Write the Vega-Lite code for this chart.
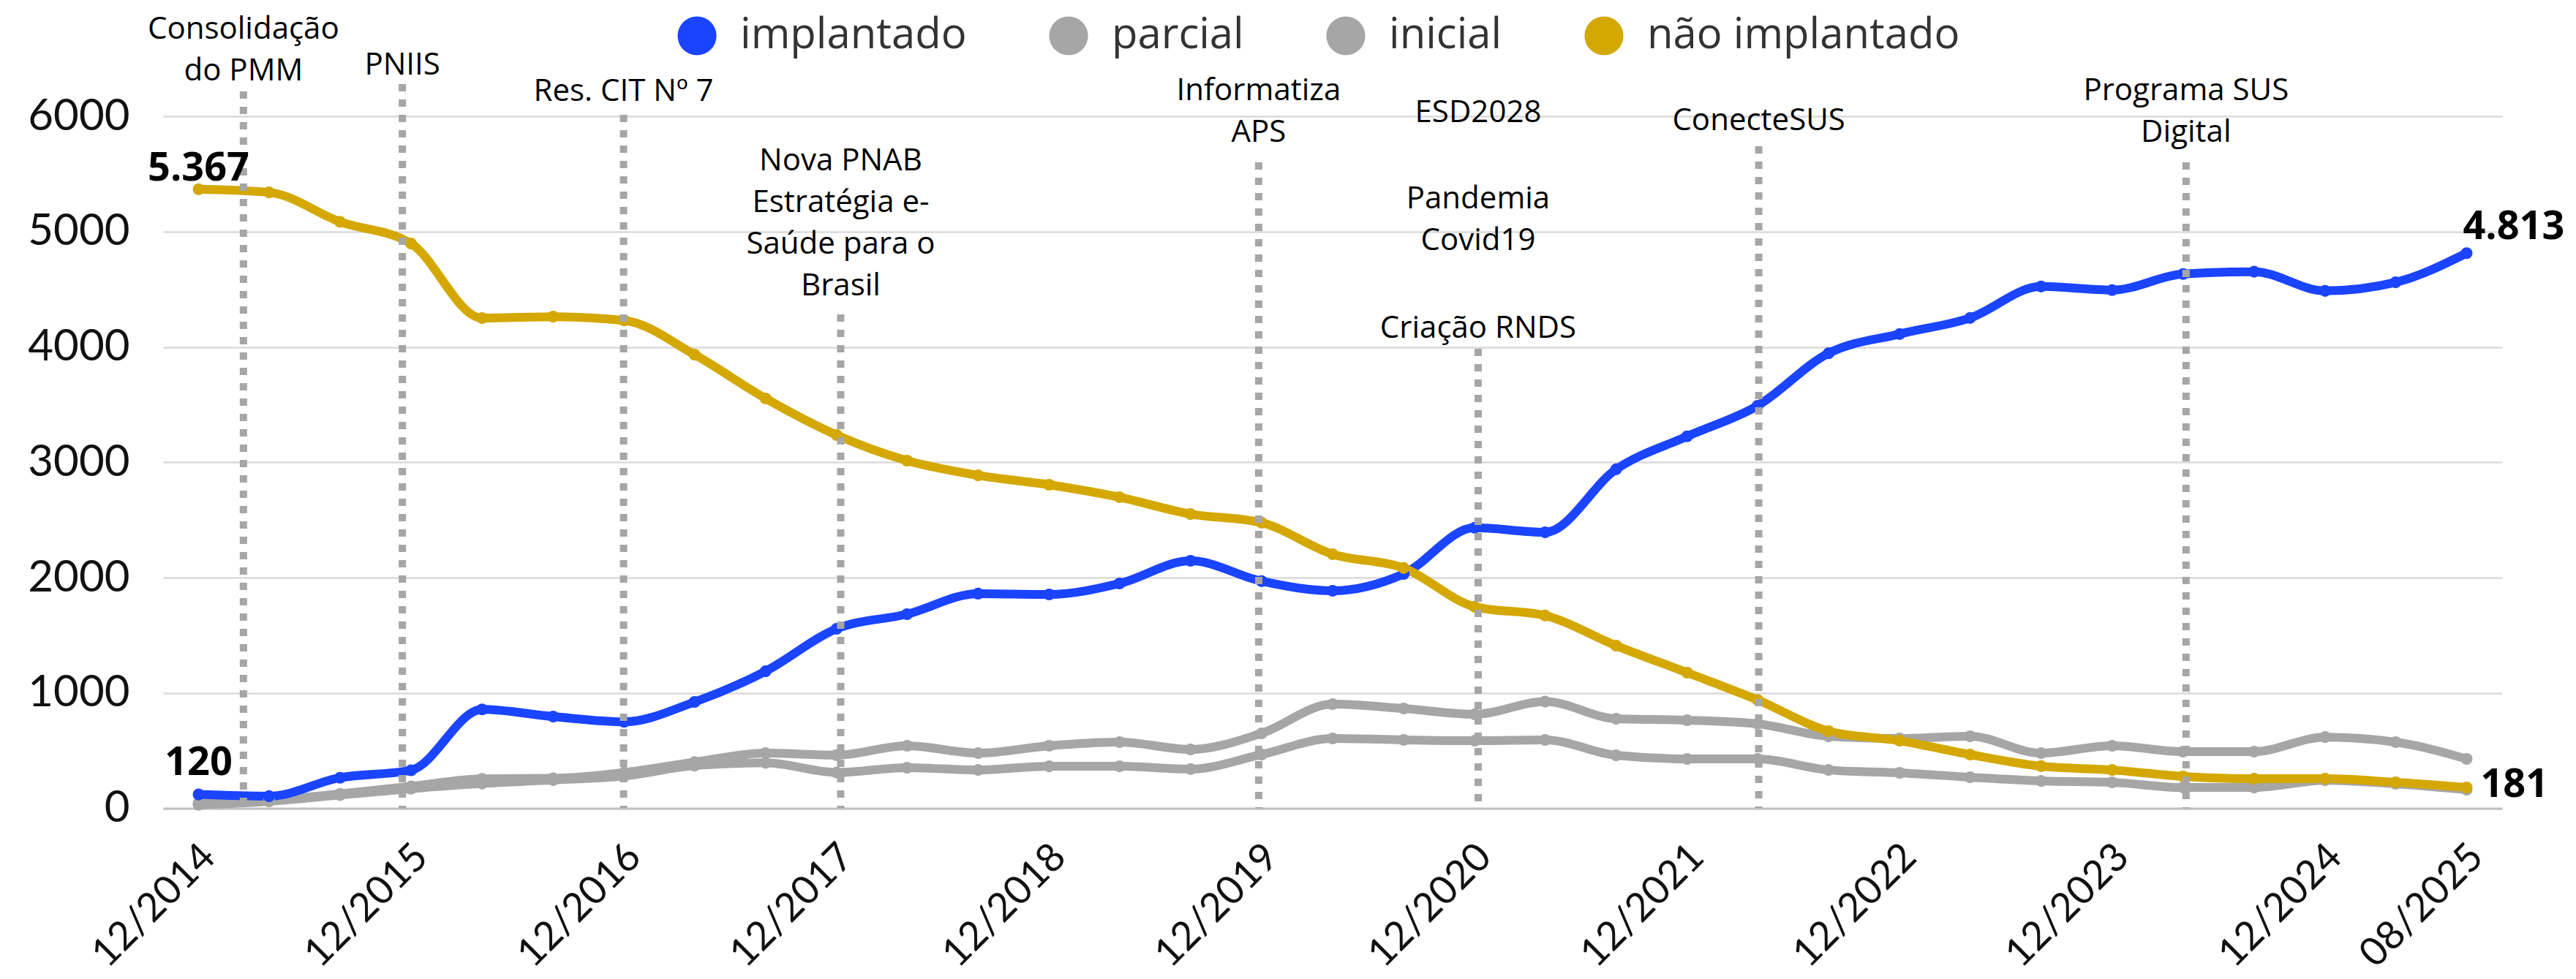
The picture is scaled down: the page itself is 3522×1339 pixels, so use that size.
{
  "$schema": "https://vega.github.io/schema/vega-lite/v6.json",
  "width": 3198,
  "height": 946.5,
  "autosize": {"type": "none"},
  "padding": {"left": 223, "top": 159, "right": 101, "bottom": 233.5},
  "background": "white",
  "config": {"view": {"stroke": null}},
  "datasets": {
    "series": [
      {"data": "2014-12-01", "implantado": 120, "parcial": 45, "inicial": 30, "não implantado": 5367},
      {"data": "2015-04-01", "implantado": 105, "parcial": 70, "inicial": 60, "não implantado": 5340},
      {"data": "2015-08-01", "implantado": 265, "parcial": 125, "inicial": 115, "não implantado": 5085},
      {"data": "2015-12-01", "implantado": 330, "parcial": 190, "inicial": 170, "não implantado": 4896},
      {"data": "2016-04-01", "implantado": 857, "parcial": 255, "inicial": 215, "não implantado": 4250},
      {"data": "2016-08-01", "implantado": 795, "parcial": 260, "inicial": 245, "não implantado": 4262},
      {"data": "2016-12-01", "implantado": 750, "parcial": 310, "inicial": 280, "não implantado": 4230},
      {"data": "2017-04-01", "implantado": 922, "parcial": 400, "inicial": 370, "não implantado": 3933},
      {"data": "2017-08-01", "implantado": 1188, "parcial": 478, "inicial": 394, "não implantado": 3553},
      {"data": "2017-12-01", "implantado": 1556, "parcial": 461, "inicial": 310, "não implantado": 3236},
      {"data": "2018-04-01", "implantado": 1683, "parcial": 542, "inicial": 352, "não implantado": 3014},
      {"data": "2018-08-01", "implantado": 1861, "parcial": 478, "inicial": 332, "não implantado": 2887},
      {"data": "2018-12-01", "implantado": 1854, "parcial": 542, "inicial": 364, "não implantado": 2805},
      {"data": "2019-04-01", "implantado": 1949, "parcial": 574, "inicial": 364, "não implantado": 2697},
      {"data": "2019-08-01", "implantado": 2146, "parcial": 510, "inicial": 340, "não implantado": 2551},
      {"data": "2019-12-01", "implantado": 1969, "parcial": 650, "inicial": 466, "não implantado": 2476},
      {"data": "2020-04-01", "implantado": 1886, "parcial": 903, "inicial": 605, "não implantado": 2203},
      {"data": "2020-08-01", "implantado": 2032, "parcial": 865, "inicial": 593, "não implantado": 2083},
      {"data": "2020-12-01", "implantado": 2432, "parcial": 815, "inicial": 586, "não implantado": 1747},
      {"data": "2021-04-01", "implantado": 2393, "parcial": 925, "inicial": 593, "não implantado": 1671},
      {"data": "2021-08-01", "implantado": 2939, "parcial": 776, "inicial": 459, "não implantado": 1410},
      {"data": "2021-12-01", "implantado": 3225, "parcial": 764, "inicial": 428, "não implantado": 1176},
      {"data": "2022-04-01", "implantado": 3490, "parcial": 732, "inicial": 428, "não implantado": 940},
      {"data": "2022-08-01", "implantado": 3945, "parcial": 624, "inicial": 332, "não implantado": 669},
      {"data": "2022-12-01", "implantado": 4112, "parcial": 605, "inicial": 307, "não implantado": 586},
      {"data": "2023-04-01", "implantado": 4251, "parcial": 624, "inicial": 269, "não implantado": 466},
      {"data": "2023-08-01", "implantado": 4524, "parcial": 478, "inicial": 237, "não implantado": 365},
      {"data": "2023-12-01", "implantado": 4493, "parcial": 542, "inicial": 225, "não implantado": 332},
      {"data": "2024-04-01", "implantado": 4632, "parcial": 491, "inicial": 180, "não implantado": 276},
      {"data": "2024-08-01", "implantado": 4652, "parcial": 491, "inicial": 180, "não implantado": 256},
      {"data": "2024-12-01", "implantado": 4486, "parcial": 617, "inicial": 243, "não implantado": 256},
      {"data": "2025-04-01", "implantado": 4560, "parcial": 574, "inicial": 212, "não implantado": 225},
      {"data": "2025-08-01", "implantado": 4813, "parcial": 428, "inicial": 161, "não implantado": 181}
    ],
    "marcos": [
      {"data": "2015-02-16", "topo": 6216},
      {"data": "2015-11-16", "topo": 6279},
      {"data": "2016-11-30", "topo": 6013},
      {"data": "2017-12-08", "topo": 4282},
      {"data": "2019-11-26", "topo": 5601},
      {"data": "2020-12-07", "topo": 3984},
      {"data": "2022-04-03", "topo": 5740},
      {"data": "2024-04-06", "topo": 5601}
    ],
    "rotulos": [
      {"data": "2015-02-16", "y": 6672, "rotulo": "Consolidação\ndo PMM"},
      {"data": "2015-11-16", "y": 6361, "rotulo": "PNIIS"},
      {"data": "2016-11-30", "y": 6131, "rotulo": "Res. CIT Nº 7"},
      {"data": "2017-12-08", "y": 5531, "rotulo": "Nova PNAB\nEstratégia e-\nSaúde para o\nBrasil"},
      {"data": "2019-11-26", "y": 6140, "rotulo": "Informatiza\nAPS"},
      {"data": "2020-12-07", "y": 5949, "rotulo": "ESD2028"},
      {"data": "2020-12-07", "y": 5201, "rotulo": "Pandemia\nCovid19"},
      {"data": "2020-12-07", "y": 4079, "rotulo": "Criação RNDS"},
      {"data": "2022-04-03", "y": 5880, "rotulo": "ConecteSUS"},
      {"data": "2024-04-06", "y": 6140, "rotulo": "Programa SUS\nDigital"}
    ],
    "destaques": [
      {"data": "2014-12-01", "valor": 5367, "texto": "5.367"},
      {"data": "2014-12-01", "valor": 120, "texto": "120"},
      {"data": "2025-08-01", "valor": 4813, "texto": "4.813"},
      {"data": "2025-08-01", "valor": 181, "texto": "181"}
    ]
  },
  "layer": [
    {
      "data": {"name": "series"},
      "transform": [{"fold": ["parcial", "inicial", "implantado", "não implantado"], "as": ["serie", "valor"]}],
      "mark": {"type": "line", "interpolate": "monotone", "strokeWidth": 12, "point": {"filled": true, "size": 260, "strokeWidth": 0}},
      "encoding": {
        "x": {
          "field": "data", "type": "temporal",
          "scale": {"type": "utc", "domain": [{"year": 2014, "month": 10, "date": 1, "utc": true}, {"year": 2025, "month": 10, "date": 1, "utc": true}]},
          "axis": {
            "title": null,
            "values": [
              {"year": 2014, "month": 12, "date": 1, "utc": true},
              {"year": 2015, "month": 12, "date": 1, "utc": true},
              {"year": 2016, "month": 12, "date": 1, "utc": true},
              {"year": 2017, "month": 12, "date": 1, "utc": true},
              {"year": 2018, "month": 12, "date": 1, "utc": true},
              {"year": 2019, "month": 12, "date": 1, "utc": true},
              {"year": 2020, "month": 12, "date": 1, "utc": true},
              {"year": 2021, "month": 12, "date": 1, "utc": true},
              {"year": 2022, "month": 12, "date": 1, "utc": true},
              {"year": 2023, "month": 12, "date": 1, "utc": true},
              {"year": 2024, "month": 12, "date": 1, "utc": true},
              {"year": 2025, "month": 8, "date": 1, "utc": true}
            ],
            "format": "%m/%Y",
            "labelAngle": -45,
            "labelAlign": "right",
            "labelBaseline": "middle",
            "labelFont": "Lato",
            "labelFontSize": 54,
            "labelColor": "#111111",
            "labelLimit": 1000,
            "labelPadding": 58,
            "labelOffset": 14,
            "labelOverlap": false,
            "labelBound": false,
            "labelFlush": false,
            "ticks": false,
            "tickSize": 0,
            "grid": false,
            "domain": true,
            "domainColor": "#c2c2c2",
            "domainWidth": 3
          }
        },
        "y": {
          "field": "valor", "type": "quantitative",
          "scale": {"domain": [0, 6000], "nice": false, "zero": true},
          "axis": {
            "title": null,
            "values": [0, 1000, 2000, 3000, 4000, 5000, 6000],
            "format": "d",
            "grid": true,
            "gridColor": "#dadada",
            "gridWidth": 2.5,
            "domain": false,
            "ticks": false,
            "labelFont": "Lato",
            "labelFontSize": 60,
            "labelColor": "#111111",
            "labelPadding": 46
          }
        },
        "color": {
          "field": "serie", "type": "nominal",
          "scale": {"domain": ["implantado", "parcial", "inicial", "não implantado"], "range": ["#1a44ff", "#a6a6a6", "#a6a6a6", "#d4a800"]},
          "legend": {
            "orient": "none",
            "legendX": 701,
            "legendY": -139,
            "direction": "horizontal",
            "title": null,
            "symbolType": "circle",
            "symbolSize": 2827,
            "symbolStrokeWidth": 0,
            "labelFont": "Open Sans",
            "labelFontSize": 58,
            "labelColor": "#333333",
            "labelLimit": 1000,
            "labelOffset": 30,
            "columnPadding": 110,
            "padding": 0,
            "encode": {"symbols": {"update": {"fill": {"scale": "color", "field": "value"}, "fillOpacity": {"value": 1}, "strokeWidth": {"value": 0}}}}
          }
        }
      }
    },
    {
      "data": {"name": "marcos"},
      "mark": {"type": "rule", "color": "#a6a6a6", "strokeWidth": 10, "strokeDash": [10, 11]},
      "encoding": {
        "x": {"field": "data", "type": "temporal"},
        "y": {"field": "topo", "type": "quantitative"},
        "y2": {"datum": 0}
      }
    },
    {
      "data": {"name": "rotulos"},
      "mark": {"type": "text", "font": "Open Sans", "fontSize": 42, "lineHeight": 57, "align": "center", "baseline": "alphabetic", "color": "#000000", "lineBreak": "\n"},
      "encoding": {
        "x": {"field": "data", "type": "temporal"},
        "y": {"field": "y", "type": "quantitative"},
        "text": {"field": "rotulo"}
      }
    },
    {
      "data": {"name": "destaques"},
      "transform": [{"filter": "datum.texto == '5.367'"}],
      "mark": {"type": "text", "font": "Open Sans", "fontWeight": "bold", "fontSize": 54, "align": "center", "baseline": "alphabetic", "dy": -12, "color": "#000000"},
      "encoding": {"x": {"field": "data", "type": "temporal"}, "y": {"field": "valor", "type": "quantitative"}, "text": {"field": "texto"}}
    },
    {
      "data": {"name": "destaques"},
      "transform": [{"filter": "datum.texto == '120'"}],
      "mark": {"type": "text", "font": "Open Sans", "fontWeight": "bold", "fontSize": 54, "align": "center", "baseline": "alphabetic", "dy": -27, "color": "#000000"},
      "encoding": {"x": {"field": "data", "type": "temporal"}, "y": {"field": "valor", "type": "quantitative"}, "text": {"field": "texto"}}
    },
    {
      "data": {"name": "destaques"},
      "transform": [{"filter": "datum.texto == '4.813'"}],
      "mark": {"type": "text", "font": "Open Sans", "fontWeight": "bold", "fontSize": 54, "align": "left", "baseline": "alphabetic", "dx": -5, "dy": -19, "color": "#000000"},
      "encoding": {"x": {"field": "data", "type": "temporal"}, "y": {"field": "valor", "type": "quantitative"}, "text": {"field": "texto"}}
    },
    {
      "data": {"name": "destaques"},
      "transform": [{"filter": "datum.texto == '181'"}],
      "mark": {"type": "text", "font": "Open Sans", "fontWeight": "bold", "fontSize": 54, "align": "left", "baseline": "middle", "dx": 19, "dy": -3, "color": "#000000"},
      "encoding": {"x": {"field": "data", "type": "temporal"}, "y": {"field": "valor", "type": "quantitative"}, "text": {"field": "texto"}}
    }
  ]
}
